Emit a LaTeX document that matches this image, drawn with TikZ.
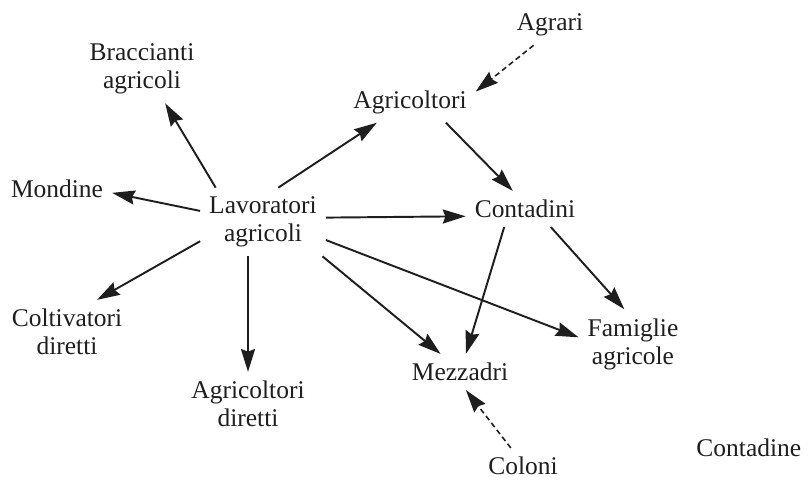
\documentclass[tikz,border=0pt]{standalone}
\usepackage{fontspec}
\setmainfont{Liberation Serif}
\usetikzlibrary{arrows.meta}
\definecolor{ink}{HTML}{1E1E1E}

\begin{document}
\begin{tikzpicture}[x=0.02cm, y=0.02cm,
  lbl/.style={align=center, inner sep=5pt, text=ink, font=\fontsize{14.5}{16}\selectfont},
  arr/.style={-{Stealth[length=13pt,width=8pt,inset=1.5pt]}, line width=1.1pt, draw=ink},
  darr/.style={arr, dash pattern=on 3pt off 2pt, line width=0.9pt}]
  \useasboundingbox (0,0) rectangle (810,-480);
  % labels
  \foreach \n/\x/\y/\t in {
    brac/142/69/{Braccianti\\agricoli},
    agrari/550/25/{Agrari},
    agr/410/102/{Agricoltori},
    mon/57/189/{Mondine},
    lav/263/222/{Lavoratori\\agricoli},
    cont/525/209/{Contadini},
    colt/67/332/{Coltivatori\\diretti},
    agdir/248/404/{Agricoltori\\diretti},
    mezz/460/372/{Mezzadri},
    fam/633/344/{Famiglie\\agricole},
    coloni/523/466/{Coloni},
    contne/752/448/{Contadine}
  } {
    \node[lbl] (\n) at (\x,-\y) {\t};
  }
  % solid links
  \foreach \a/\b in {
    lav.144/brac.304, lav.66/agr.212, lav.170/mon.356, lav.4/cont.187,
    lav.197/colt.47, lav.south -| agdir.north/agdir.north, lav.330/mezz.137,
    lav.344/fam.173, agr.330/cont.124, cont.221/mezz.72, cont.325/fam.104
  } {
    \draw[arr] (\a) -- (\b);
  }
  % dashed links
  \draw[darr] (agrari.231) -- (agr.9);
  \draw[darr] (coloni.124) -- (mezz.288);
\end{tikzpicture}
\end{document}
